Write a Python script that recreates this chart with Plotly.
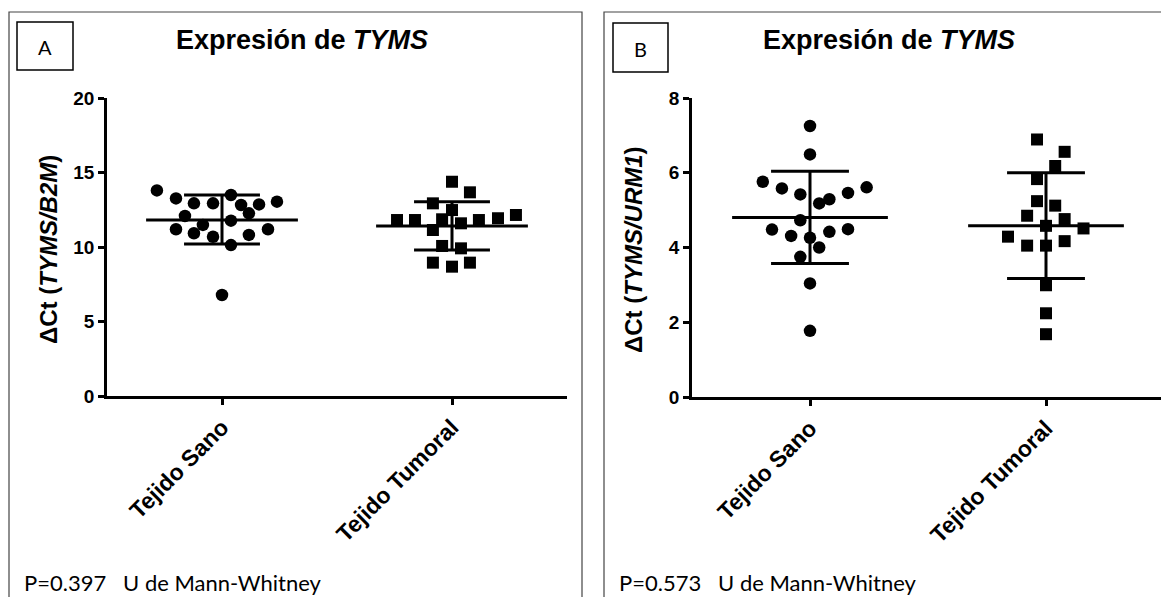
import plotly.graph_objects as go

W, H = 1169, 597
OFF = 8                      # default page body margin
FW, FH = W - OFF, H - OFF    # figure size so it fills the window

# ---------------- data ----------------
categories = ["Tejido Sano", "Tejido Tumoral"]

# Panel A: ΔCt (TYMS/B2M)
a_sano = [13.8, 13.26, 12.93, 12.93, 13.49, 12.82, 12.86, 13.04, 12.08, 12.26,
          11.77, 11.19, 10.92, 11.48, 10.69, 10.81, 11.19, 10.13, 6.78]
a_sano_jit = [-0.283, -0.2, -0.122, -0.039, 0.039, 0.083, 0.161, 0.239, -0.161, 0.117,
              0.039, -0.2, -0.122, -0.083, -0.039, 0.117, 0.2, 0.039, 0.0]
a_tum = [14.38, 13.67, 12.93, 12.48, 11.81, 11.81, 11.86, 11.59, 11.81, 11.93,
         12.15, 11.14, 10.07, 9.91, 8.95, 8.68, 8.95]
a_tum_jit = [0.0, 0.078, -0.083, 0.0, -0.239, -0.161, -0.043, 0.039, 0.117, 0.2,
             0.278, -0.083, -0.043, 0.039, -0.083, 0.0, 0.078]
a_mean = [11.81, 11.41]
a_low = [10.2, 9.8]
a_high = [13.49, 13.04]

# Panel B: ΔCt (TYMS/URM1)
b_sano = [7.25, 6.49, 5.76, 5.58, 5.42, 5.18, 5.29, 5.46, 5.61, 4.73,
          4.48, 4.31, 4.26, 4.42, 4.49, 4.0, 3.75, 3.04, 1.77]
b_sano_jit = [0.0, 0.0, -0.2, -0.119, -0.041, 0.039, 0.082, 0.161, 0.24, -0.041,
              -0.161, -0.08, 0.0, 0.082, 0.161, 0.039, -0.041, 0.0, 0.0]
b_tum = [6.89, 6.56, 6.18, 5.83, 5.24, 5.12, 4.85, 4.76, 4.58, 4.51,
         4.29, 4.05, 4.05, 4.17, 2.99, 2.24, 1.68]
b_tum_jit = [-0.038, 0.079, 0.039, -0.038, -0.038, 0.039, -0.08, 0.079, 0.0, 0.159,
             -0.161, -0.08, 0.0, 0.079, 0.0, 0.0, 0.0]
b_mean = [4.80, 4.58]
b_low = [3.57, 3.17]
b_high = [6.04, 6.0]

a_yticks = [0, 5, 10, 15, 20]
b_yticks = [0, 2, 4, 6, 8]
p_texts = ["P=0.397   U de Mann-Whitney", "P=0.573   U de Mann-Whitney"]
panel_letters = ["A", "B"]
y_titles = ["ΔCt (<i>TYMS/B2M</i>)", "ΔCt (<i>TYMS/URM1</i>)"]

# ---------------- figure ----------------
fig = go.Figure()

def px_x(p):
    return (p - OFF) / FW

def px_y(p):
    return 1 - (p - OFF) / FH

MEAN_HW = 0.33
CAP_HW = 0.165

def add_panel(xa, ya, sano, sano_j, tum, tum_j, means, lows, highs):
    xs = [0 + j for j in sano_j]
    fig.add_trace(go.Scatter(x=xs, y=sano, mode="markers", xaxis=xa, yaxis=ya,
                             marker=dict(symbol="circle", size=12.5, color="black"),
                             showlegend=False, hoverinfo="y"))
    xt = [1 + j for j in tum_j]
    fig.add_trace(go.Scatter(x=xt, y=tum, mode="markers", xaxis=xa, yaxis=ya,
                             marker=dict(symbol="square", size=12, color="black"),
                             showlegend=False, hoverinfo="y"))
    lx, ly = [], []
    for c, (m, lo, hi) in enumerate(zip(means, lows, highs)):
        lx += [c - MEAN_HW, c + MEAN_HW, None, c, c, None,
               c - CAP_HW, c + CAP_HW, None, c - CAP_HW, c + CAP_HW, None]
        ly += [m, m, None, lo, hi, None, lo, lo, None, hi, hi, None]
    fig.add_trace(go.Scatter(x=lx, y=ly, mode="lines", xaxis=xa, yaxis=ya,
                             line=dict(color="black", width=3),
                             showlegend=False, hoverinfo="skip"))

add_panel("x", "y", a_sano, a_sano_jit, a_tum, a_tum_jit, a_mean, a_low, a_high)
add_panel("x2", "y2", b_sano, b_sano_jit, b_tum, b_tum_jit, b_mean, b_low, b_high)

axis_common = dict(showline=True, linecolor="black", linewidth=2.5, ticks="outside",
                   tickwidth=2.5, tickcolor="black", ticklen=6, showgrid=False,
                   zeroline=False, fixedrange=True, automargin=False)
tickfont = dict(family="Liberation Sans, Arial", size=19, color="black", weight="bold")
xtickfont = dict(family="Liberation Sans, Arial", size=23, color="black", weight="bold")

fig.update_layout(
    width=FW, height=FH,
    margin=dict(l=0, r=0, t=0, b=0),
    paper_bgcolor="white", plot_bgcolor="white",
    xaxis=dict(domain=[px_x(107), px_x(567)], range=[-0.5, 1.5], anchor="y",
               tickvals=[0, 1], ticktext=categories, tickangle=-45, tickfont=xtickfont,
               **axis_common),
    yaxis=dict(domain=[px_y(396), px_y(98)], range=[0, 20], anchor="x",
               tickvals=a_yticks, tickfont=tickfont, **axis_common),
    xaxis2=dict(domain=[px_x(692), px_x(1164)], range=[-0.5, 1.5], anchor="y2",
                tickvals=[0, 1], ticktext=categories, tickangle=-45, tickfont=xtickfont,
                **axis_common),
    yaxis2=dict(domain=[px_y(397), px_y(98)], range=[0, 8], anchor="x2",
                tickvals=b_yticks, tickfont=tickfont, **axis_common),
)

shapes = []
annotations = []
panels = [
    dict(left=8, right=582, box=(17, 22, 73, 70), title_x=302, ytitle_x=48, p_x=22),
    dict(left=603, right=1167, box=(613, 23, 668, 72), title_x=889, ytitle_x=633, p_x=617),
]
for i, pnl in enumerate(panels):
    shapes.append(dict(type="rect", xref="paper", yref="paper",
                       x0=px_x(pnl["left"] + 1), x1=px_x(pnl["right"]),
                       y0=px_y(600), y1=px_y(12),
                       line=dict(color="#444444", width=1.2), fillcolor="rgba(0,0,0,0)"))
    bx0, by0, bx1, by1 = pnl["box"]
    shapes.append(dict(type="rect", xref="paper", yref="paper",
                       x0=px_x(bx0), x1=px_x(bx1), y0=px_y(by1), y1=px_y(by0),
                       line=dict(color="black", width=1.5), fillcolor="rgba(0,0,0,0)"))
    annotations.append(dict(xref="paper", yref="paper", x=px_x((bx0 + bx1) / 2),
                            y=px_y((by0 + by1) / 2 + 1), text=panel_letters[i],
                            showarrow=False, xanchor="center", yanchor="middle",
                            font=dict(family="Lato, Open Sans", size=20, color="black")))
    annotations.append(dict(xref="paper", yref="paper", x=px_x(pnl["title_x"]),
                            y=px_y(40), text="<b>Expresión de <i>TYMS</i></b>",
                            showarrow=False, xanchor="center", yanchor="middle",
                            font=dict(family="Liberation Sans, Arial", size=27, color="black")))
    annotations.append(dict(xref="paper", yref="paper", x=px_x(pnl["ytitle_x"]),
                            y=px_y(250), text="<b>" + y_titles[i] + "</b>", textangle=-90,
                            showarrow=False, xanchor="center", yanchor="middle",
                            font=dict(family="Liberation Sans, Arial", size=24, color="black")))
    annotations.append(dict(xref="paper", yref="paper", x=px_x(pnl["p_x"]),
                            y=px_y(582), text=p_texts[i],
                            showarrow=False, xanchor="left", yanchor="middle",
                            font=dict(family="Lato, Open Sans", size=22, color="black")))

fig.update_layout(shapes=shapes, annotations=annotations)

fig.write_html("out.html")
